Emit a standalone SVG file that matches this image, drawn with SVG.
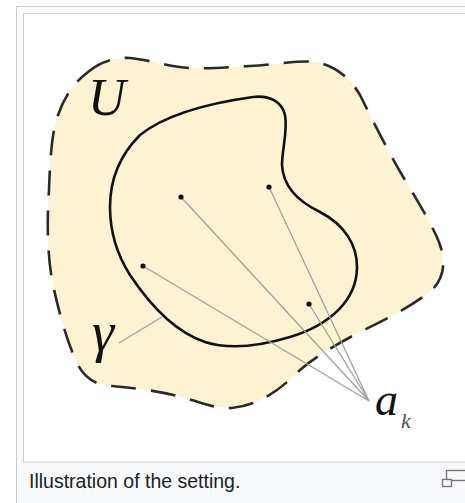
<svg xmlns="http://www.w3.org/2000/svg" width="465" height="503" viewBox="0 0 465 503">
<style>
.frame{fill:#f8f9fa;stroke:#c8ccd1;stroke-width:1}
.img{fill:#ffffff;stroke:#c8ccd1;stroke-width:1}
.region{fill:#fdf3d3;stroke:#2a2a2a;stroke-width:2.6;stroke-dasharray:25 15}
.curve{fill:none;stroke:#111;stroke-width:2.6}
.ptr{fill:none;stroke:#a0a0a0;stroke-width:1.3}
.dot{fill:#111}
.math{font-family:"Liberation Serif","DejaVu Serif",serif;font-style:italic;fill:#111}
.cap{font-family:"Liberation Sans",Arial,sans-serif;font-size:19.5px;fill:#202122}
.icon{fill:none;stroke:#777;stroke-width:1.4}
</style>
<rect class="frame" x="16.5" y="6.5" width="470" height="510"/>
<rect class="img" x="23.5" y="13.5" width="460" height="448.5"/>
<g id="region-U">
<path class="region" d="M 88,72 C 100,62 115,57 130,58 C 150,60 170,67 190,68 C 210,69 230,67 250,66 C 280,64 300,60 315,62 C 335,65 350,78 360,95 C 375,125 390,155 405,180 C 420,205 435,230 440,245 C 446,262 444,278 432,290 C 410,308 380,322 360,332 C 335,345 315,357 300,370 C 280,390 260,405 232,408 C 215,409 200,402 185,398 C 160,391 135,388 112,386 C 95,385 85,378 78,365 C 68,345 58,310 52,280 C 47,250 47,220 49,190 C 50,160 52,130 58,115 C 65,95 75,82 88,72 Z"/>
<text class="math" x="88" y="115" font-size="52">U</text>
</g>
<g id="curve-gamma">
<path class="curve" d="M 110,207 C 110,180 120,155 140,135 C 165,115 210,103 253,97 C 270,95 282,102 285,115 C 288,130 282,150 282,165 C 283,185 295,200 320,212 C 345,225 357,245 357,267 C 357,300 330,325 290,337 C 260,346 230,350 205,342 C 175,332 150,305 130,275 C 116,253 110,230 110,207 Z"/>
<text class="math" x="92" y="351" font-size="56">γ</text>
</g>
<g id="connectors">
<line class="ptr" x1="119" y1="343" x2="162" y2="317"/>
<line class="ptr" x1="181" y1="197" x2="369" y2="401"/>
<line class="ptr" x1="269" y1="187" x2="369" y2="401"/>
<line class="ptr" x1="143" y1="266" x2="369" y2="401"/>
<line class="ptr" x1="309" y1="304" x2="369" y2="401"/>
</g>
<g id="points">
<circle class="dot" cx="181" cy="197" r="2.6"/>
<circle class="dot" cx="269" cy="187" r="2.6"/>
<circle class="dot" cx="143" cy="266" r="2.6"/>
<circle class="dot" cx="309" cy="304" r="2.6"/>
</g>
<g id="label-ak">
<text class="math" x="375" y="415" font-size="46">a</text>
<text class="math" x="401" y="428" font-size="22" style="fill:#555">k</text>
</g>
<g id="caption">
<text class="cap" x="29" y="488">Illustration of the setting.</text>
<rect class="icon" x="446.5" y="470.5" width="22" height="10"/>
<rect class="icon" x="442.5" y="479.5" width="9" height="7" style="fill:#f8f9fa"/>
</g>
</svg>
